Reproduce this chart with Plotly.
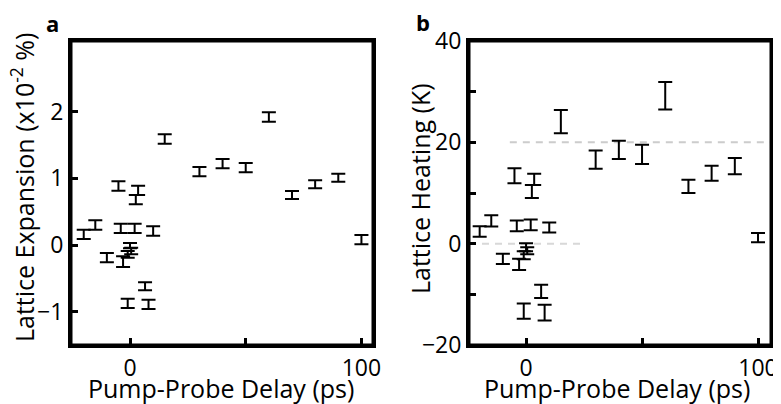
import plotly.graph_objects as go

# Shared pump-probe delays (ps)
delay = [-20, -15, -10, -5, -4, -3, -1, 0, 0.5, -1, 2, 3.5, 2.5, 6.5, 8, 10,
         15, 30, 40, 50, 60, 70, 80, 90, 100]

# Panel a: lattice expansion (x10^-2 %)
expansion = [0.16, 0.30, -0.19, 0.885, 0.25, -0.25, -0.14, -0.01, -0.09, -0.875,
             0.25, 0.82, 0.68, -0.62, -0.89, 0.21,
             1.59, 1.10, 1.22, 1.16, 1.92, 0.75, 0.91, 1.01, 0.08]
expansion_err = [0.07, 0.07, 0.07, 0.07, 0.07, 0.08, 0.05, 0.04, 0.05, 0.07,
                 0.07, 0.07, 0.07, 0.06, 0.07, 0.07,
                 0.07, 0.07, 0.07, 0.07, 0.07, 0.06, 0.06, 0.06, 0.07]

# Panel b: lattice heating (K)
heating = [2.4, 4.5, -3.0, 13.4, 3.5, -4.1, -2.3, -0.7, -1.4, -13.3,
           3.7, 12.7, 10.3, -9.4, -13.6, 3.2,
           24.1, 16.6, 18.5, 17.6, 29.2, 11.3, 13.9, 15.3, 1.2]
heating_err = [1.05, 1.1, 1.0, 1.5, 1.05, 1.1, 0.8, 0.8, 0.7, 1.5,
               1.05, 1.1, 1.3, 1.3, 1.55, 1.0,
               2.3, 1.8, 1.8, 1.9, 2.7, 1.3, 1.5, 1.6, 0.9]

x_labeled_ticks = [0, 100]
x_minor_ticks = [50]
a_ticks = [-1, 0, 1, 2]
b_labeled_ticks = [-20, 0, 20, 40]
b_minor_ticks = [-10, 10, 30]

# axis ranges
a_xrange = [-25.5, 105]
a_yrange = [-1.5, 3.06]
b_xrange = [-24.6, 105.6]
b_yrange = [-20, 40]

FONT = "Open Sans"
OFF = 8                      # page body margin
W, H = 781 - OFF, 404 - OFF


def px(x):
    return (x - OFF) / W


def py(y):
    return 1 - (y - OFF) / H


fig = go.Figure()


def bars(x, y, e, xa, ya):
    return go.Scatter(
        x=x, y=y, mode="markers", xaxis=xa, yaxis=ya,
        marker=dict(size=1, color="rgba(0,0,0,0)"),
        error_y=dict(type="data", array=e, visible=True, color="black",
                     thickness=2, width=7),
        showlegend=False, hoverinfo="skip")


def frame(xr, yr, xa, ya):
    return go.Scatter(
        x=[xr[0], xr[1], xr[1], xr[0], xr[0]],
        y=[yr[0], yr[0], yr[1], yr[1], yr[0]],
        mode="lines", xaxis=xa, yaxis=ya, cliponaxis=False,
        line=dict(color="black", width=3),
        showlegend=False, hoverinfo="skip")


fig.add_trace(bars(delay, expansion, expansion_err, "x", "y"))
fig.add_trace(bars(delay, heating, heating_err, "x2", "y2"))
fig.add_trace(frame(a_xrange, a_yrange, "x", "y"))
fig.add_trace(frame(b_xrange, b_yrange, "x2", "y2"))

tick_style = dict(ticks="inside", ticklen=7, tickwidth=3, tickcolor="black")
axis_common = dict(showline=True, mirror=True, linecolor="black", linewidth=3,
                   showgrid=False, zeroline=False,
                   automargin=False, tickmode="array",
                   tickfont=dict(family=FONT, size=23, color="black"),
                   **tick_style)

ydom = [py(345), py(41)]
a_x = [px(71), px(373)]
b_x = [px(469), px(771)]

fig.update_layout(
    width=W, height=H, margin=dict(l=0, r=0, t=0, b=0, autoexpand=False),
    paper_bgcolor="white", plot_bgcolor="white",
    xaxis=dict(domain=a_x, range=a_xrange,
               tickvals=x_labeled_ticks, anchor="y",
               minor=dict(tickvals=x_minor_ticks, **tick_style), **axis_common),
    yaxis=dict(domain=ydom, range=a_yrange, tickvals=a_ticks, anchor="x",
               **axis_common),
    xaxis2=dict(domain=b_x, range=b_xrange,
                tickvals=x_labeled_ticks, anchor="y2",
                minor=dict(tickvals=x_minor_ticks, **tick_style), **axis_common),
    yaxis2=dict(domain=ydom, range=b_yrange, tickvals=b_labeled_ticks,
                anchor="x2", minor=dict(tickvals=b_minor_ticks, **tick_style),
                **axis_common),
)

# dashed guide lines in panel b
fig.add_shape(type="line", xref="x2", yref="y2", x0=-7, x1=105.6, y0=20, y1=20,
              line=dict(color="#cccccc", width=2, dash="7px,6px"), layer="below")
fig.add_shape(type="line", xref="x2", yref="y2", x0=-24.6, x1=25, y0=0, y1=0,
              line=dict(color="#d8d8d8", width=2, dash="7px,6px"), layer="below")

tf = dict(family=FONT, size=25, color="black")
lf = dict(family=FONT, size=22, color="black")
ann = [
    dict(text="<b>a</b>", x=px(52), y=py(23), font=lf),
    dict(text="<b>b</b>", x=px(423), y=py(22), font=lf),
    dict(text="Pump-Probe Delay (ps)", x=px(221), y=py(388), font=tf),
    dict(text="Pump-Probe Delay (ps)", x=px(617), y=py(388), font=tf),
    dict(text="Lattice Expansion (x10<sup>-2</sup> %)", x=px(22), y=py(188),
         font=tf, textangle=-90),
    dict(text="Lattice Heating (K)", x=px(420), y=py(189), font=tf,
         textangle=-90),
]
for a in ann:
    fig.add_annotation(xref="paper", yref="paper", showarrow=False,
                       xanchor="center", yanchor="middle", **a)

fig.write_html("out.html")
